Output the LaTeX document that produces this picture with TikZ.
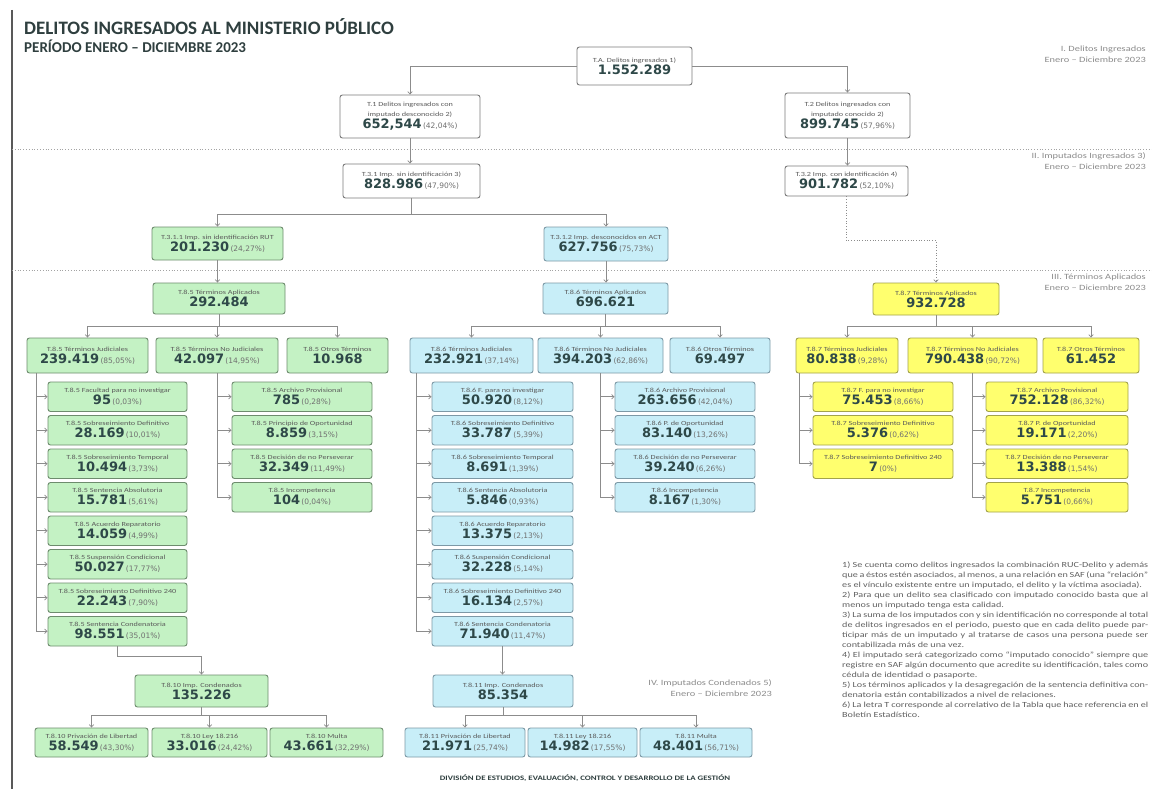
\documentclass[tikz,border=0pt]{standalone}
\usepackage{fontspec}
\setmainfont{Carlito}
\newfontfamily\numfont{DejaVu Sans}
\newfontfamily\widefont[FakeStretch=1.3]{Carlito}
\usetikzlibrary{arrows.meta,calc}
\definecolor{gfill}{HTML}{C4F2C4}\definecolor{gdraw}{HTML}{6E8C6E}
\definecolor{bfill}{HTML}{C8EEF8}\definecolor{bdraw}{HTML}{7D99A6}
\definecolor{yfill}{HTML}{FFFF6E}\definecolor{ydraw}{HTML}{A3A34A}
\definecolor{wdraw}{HTML}{7A7A7A}
\definecolor{numc}{HTML}{2E4848}
\definecolor{lblc}{HTML}{5A5A5A}
\definecolor{pctc}{HTML}{707070}
\definecolor{linec}{HTML}{8C8C8C}
\definecolor{titc}{HTML}{2F3F3F}
\newcommand\Lbl[1]{{\widefont\fontsize{6.3}{7}\selectfont\color{lblc}#1}}
\newcommand\Num[1]{{\numfont\bfseries\fontsize{13}{14}\selectfont\color{numc}#1}}
\newcommand\Pct[1]{{\numfont\fontsize{7.5}{8}\selectfont\color{pctc}\,#1}}
\newcommand\Bx[8]{%
 \pgfmathsetmacro\bxw{#5-#3}\pgfmathsetmacro\bxh{#6-#4}%
 \node[#1, minimum width=\bxw pt, minimum height=\bxh pt] (#2) at ({(#3+#5)/2},{(#4+#6)/2}) {\Lbl{#7}\\#8};}
\newcommand\Lst[7]{%
 \pgfmathsetmacro\lya{382+33.5*(#5-1)}\pgfmathsetmacro\lyb{\lya+29.5}%
 \Bx{#1}{#2}{#3}{\lya}{#4}{\lyb}{#6}{#7}}
\tikzset{
 box/.style={draw, rounded corners=2.5pt, line width=0.9pt, align=center, inner sep=0pt},
 gbox/.style={box, fill=gfill, draw=gdraw},
 bbox/.style={box, fill=bfill, draw=bdraw},
 ybox/.style={box, fill=yfill, draw=ydraw},
 wbox/.style={box, fill=white, draw=wdraw},
 conn/.style={draw=linec, line width=0.7pt},
 arr/.style={conn, -{Straight Barb[length=2.5pt,width=4.5pt]}},
 sep/.style={draw=linec!80, line width=0.8pt, dotted},
 side/.style={font=\widefont\fontsize{8}{9}\selectfont, text=black!45, anchor=east, inner sep=0pt},
 notes/.style={anchor=north west, text width=306pt, align=justify, inner sep=0pt,
   font=\widefont\fontsize{7.8}{10}\selectfont, text=black!62}
}
\begin{document}
\begin{tikzpicture}[x=1pt,y=-1pt]
\useasboundingbox (0,0) rectangle (1152,789);
\fill[white] (0,0) rectangle (1152,789);
\draw[line width=1.4pt, black!65] (12,10) -- (12,789);
\draw[sep] (12,149) -- (1152,149);
\draw[sep] (12,270) -- (1152,270);
% titles
\node[anchor=west, inner sep=0pt, text=titc, font=\bfseries\fontsize{19}{21}\selectfont] (title) at (24,27) {DELITOS INGRESADOS AL MINISTERIO PÚBLICO};
\node[anchor=west, inner sep=0pt, text=titc, font=\bfseries\fontsize{15}{17}\selectfont] (subtitle) at (24,46) {PERÍODO ENERO – DICIEMBRE 2023};
% side texts
\node[side] (s1a) at (1146,49) {I. Delitos Ingresados};
\node[side] (s1b) at (1146,60) {Enero – Diciembre 2023};
\node[side] (s2a) at (1146,156) {II. Imputados Ingresados 3)};
\node[side] (s2b) at (1146,167) {Enero – Diciembre 2023};
\node[side] (s3a) at (1146,277) {III. Términos Aplicados};
\node[side] (s3b) at (1146,288) {Enero – Diciembre 2023};
\node[side] (s4a) at (772,683) {IV. Imputados Condenados 5)};
\node[side] (s4b) at (772,694) {Enero – Diciembre 2023};
% white boxes
\Bx{wbox}{top}{577}{47}{692}{85}{T.A. Delitos ingresados 1)}{\Num{1.552.289}}
\node[wbox, minimum width=140pt, minimum height=43pt] (T1) at (410,116.5) {\Lbl{T.1 Delitos ingresados con}\\[-2pt]\Lbl{imputado desconocido 2)}\\\Num{652,544}\Pct{(42,04\%)}};
\node[wbox, minimum width=125pt, minimum height=45pt] (T2) at (847.5,115.5) {\Lbl{T.2 Delitos ingresados con}\\[-2pt]\Lbl{imputado conocido 2)}\\\Num{899.745}\Pct{(57,96\%)}};
\Bx{wbox}{T31}{343}{164}{480}{198}{T.3.1 Imp. sin identificación 3)}{\Num{828.986}\Pct{(47,90\%)}}
\Bx{wbox}{T32}{785}{166}{908}{196}{T.3.2 Imp. con identificación 4)}{\Num{901.782}\Pct{(52,10\%)}}
% green
\Bx{gbox}{g0}{152}{227}{283}{260}{T.3.1.1 Imp. sin identificación RUT}{\Num{201.230}\Pct{(24,27\%)}}
\Bx{gbox}{g1}{153}{283}{285}{314}{T.8.5 Términos Aplicados}{\Num{292.484}}
\Bx{gbox}{gA}{27}{338}{148}{373}{T.8.5 Términos Judiciales}{\Num{239.419}\Pct{(85,05\%)}}
\Bx{gbox}{gB}{156}{338}{278}{373}{T.8.5 Términos No Judiciales}{\Num{42.097}\Pct{(14,95\%)}}
\Bx{gbox}{gO}{287}{338}{388}{373}{T.8.5 Otros Términos}{\Num{10.968}}
\Lst{gbox}{gJ1}{48}{187}{1}{T.8.5 Facultad para no investigar}{\Num{95}\Pct{(0,03\%)}}
\Lst{gbox}{gJ2}{48}{187}{2}{T.8.5 Sobreseimiento Definitivo}{\Num{28.169}\Pct{(10,01\%)}}
\Lst{gbox}{gJ3}{48}{187}{3}{T.8.5 Sobreseimiento Temporal}{\Num{10.494}\Pct{(3,73\%)}}
\Lst{gbox}{gJ4}{48}{187}{4}{T.8.5 Sentencia Absolutoria}{\Num{15.781}\Pct{(5,61\%)}}
\Lst{gbox}{gJ5}{48}{187}{5}{T.8.5 Acuerdo Reparatorio}{\Num{14.059}\Pct{(4,99\%)}}
\Lst{gbox}{gJ6}{48}{187}{6}{T.8.5 Suspensión Condicional}{\Num{50.027}\Pct{(17,77\%)}}
\Lst{gbox}{gJ7}{48}{187}{7}{T.8.5 Sobreseimiento Definitivo 240}{\Num{22.243}\Pct{(7,90\%)}}
\Lst{gbox}{gJ8}{48}{187}{8}{T.8.5 Sentencia Condenatoria}{\Num{98.551}\Pct{(35,01\%)}}
\Lst{gbox}{gN1}{232}{372}{1}{T.8.5 Archivo Provisional}{\Num{785}\Pct{(0,28\%)}}
\Lst{gbox}{gN2}{232}{372}{2}{T.8.5 Principio de Oportunidad}{\Num{8.859}\Pct{(3,15\%)}}
\Lst{gbox}{gN3}{232}{372}{3}{T.8.5 Decisión de no Perseverar}{\Num{32.349}\Pct{(11,49\%)}}
\Lst{gbox}{gN4}{232}{372}{4}{T.8.5 Incompetencia}{\Num{104}\Pct{(0,04\%)}}
\Bx{gbox}{gC}{135}{675}{268}{707}{T.8.10 Imp. Condenados}{\Num{135.226}}
\Bx{gbox}{gC1}{35}{728}{148}{757}{T.8.10 Privación de Libertad}{\Num{58.549}\Pct{(43,30\%)}}
\Bx{gbox}{gC2}{152}{728}{267}{757}{T.8.10 Ley 18.216}{\Num{33.016}\Pct{(24,42\%)}}
\Bx{gbox}{gC3}{270}{728}{383}{757}{T.8.10 Multa}{\Num{43.661}\Pct{(32,29\%)}}
% blue
\Bx{bbox}{b0}{544}{227}{668}{261}{T.3.1.2 Imp. desconocidos en ACT}{\Num{627.756}\Pct{(75,73\%)}}
\Bx{bbox}{b1}{543}{283}{668}{314}{T.8.6 Términos Aplicados}{\Num{696.621}}
\Bx{bbox}{bA}{410}{338}{533}{373}{T.8.6 Términos Judiciales}{\Num{232.921}\Pct{(37,14\%)}}
\Bx{bbox}{bB}{538}{338}{663}{373}{T.8.6 Términos No Judiciales}{\Num{394.203}\Pct{(62,86\%)}}
\Bx{bbox}{bO}{670}{338}{770}{373}{T.8.6 Otros Términos}{\Num{69.497}}
\Lst{bbox}{bJ1}{432}{573}{1}{T.8.6 F. para no investigar}{\Num{50.920}\Pct{(8,12\%)}}
\Lst{bbox}{bJ2}{432}{573}{2}{T.8.6 Sobreseimiento Definitivo}{\Num{33.787}\Pct{(5,39\%)}}
\Lst{bbox}{bJ3}{432}{573}{3}{T.8.6 Sobreseimiento Temporal}{\Num{8.691}\Pct{(1,39\%)}}
\Lst{bbox}{bJ4}{432}{573}{4}{T.8.6 Sentencia Absolutoria}{\Num{5.846}\Pct{(0,93\%)}}
\Lst{bbox}{bJ5}{432}{573}{5}{T.8.6 Acuerdo Reparatorio}{\Num{13.375}\Pct{(2,13\%)}}
\Lst{bbox}{bJ6}{432}{573}{6}{T.8.6 Suspensión Condicional}{\Num{32.228}\Pct{(5,14\%)}}
\Lst{bbox}{bJ7}{432}{573}{7}{T.8.6 Sobreseimiento Definitivo 240}{\Num{16.134}\Pct{(2,57\%)}}
\Lst{bbox}{bJ8}{432}{573}{8}{T.8.6 Sentencia Condenatoria}{\Num{71.940}\Pct{(11,47\%)}}
\Lst{bbox}{bN1}{615}{755}{1}{T.8.6 Archivo Provisional}{\Num{263.656}\Pct{(42,04\%)}}
\Lst{bbox}{bN2}{615}{755}{2}{T.8.6 P. de Oportunidad}{\Num{83.140}\Pct{(13,26\%)}}
\Lst{bbox}{bN3}{615}{755}{3}{T.8.6 Decisión de no Perseverar}{\Num{39.240}\Pct{(6,26\%)}}
\Lst{bbox}{bN4}{615}{755}{4}{T.8.6 Incompetencia}{\Num{8.167}\Pct{(1,30\%)}}
\Bx{bbox}{bC}{433}{675}{573}{707}{T.8.11 Imp. Condenados}{\Num{85.354}}
\Bx{bbox}{bC1}{405}{728}{525}{757}{T.8.11 Privación de Libertad}{\Num{21.971}\Pct{(25,74\%)}}
\Bx{bbox}{bC2}{528}{728}{637}{757}{T.8.11 Ley 18.216}{\Num{14.982}\Pct{(17,55\%)}}
\Bx{bbox}{bC3}{640}{728}{752}{757}{T.8.11 Multa}{\Num{48.401}\Pct{(56,71\%)}}
% yellow
\Bx{ybox}{y1}{873}{283}{999}{315}{T.8.7 Términos Aplicados}{\Num{932.728}}
\Bx{ybox}{yA}{796}{338}{898}{373}{T.8.7 Términos Judiciales}{\Num{80.838}\Pct{(9,28\%)}}
\Bx{ybox}{yB}{908}{338}{1037}{373}{T.8.7 Términos No Judiciales}{\Num{790.438}\Pct{(90,72\%)}}
\Bx{ybox}{yO}{1043}{338}{1139}{373}{T.8.7 Otros Términos}{\Num{61.452}}
\Lst{ybox}{yJ1}{813}{953}{1}{T.8.7 F. para no investigar}{\Num{75.453}\Pct{(8,66\%)}}
\Lst{ybox}{yJ2}{813}{953}{2}{T.8.7 Sobreseimiento Definitivo}{\Num{5.376}\Pct{(0,62\%)}}
\Lst{ybox}{yJ3}{813}{953}{3}{T.8.7 Sobreseimiento Definitivo 240}{\Num{7}\Pct{(0\%)}}
\Lst{ybox}{yN1}{986}{1128}{1}{T.8.7 Archivo Provisional}{\Num{752.128}\Pct{(86,32\%)}}
\Lst{ybox}{yN2}{986}{1128}{2}{T.8.7 P. de Oportunidad}{\Num{19.171}\Pct{(2,20\%)}}
\Lst{ybox}{yN3}{986}{1128}{3}{T.8.7 Decisión de no Perseverar}{\Num{13.388}\Pct{(1,54\%)}}
\Lst{ybox}{yN4}{986}{1128}{4}{T.8.7 Incompetencia}{\Num{5.751}\Pct{(0,66\%)}}
% connectors
\draw[arr] (top.west) -| (T1.north);
\draw[arr] (top.east) -| (T2.north);
\draw[arr] (T1.south) -- (T1.south |- T31.north);
\draw[arr] (T2.south) -- (T2.south |- T32.north);
\draw[arr] (T31.south) -- ++(0,16) -| (g0.north);
\draw[arr] (T31.south) -- ++(0,16) -| (b0.north);
\draw[arr] (g0.south) -- (g0.south |- g1.north);
\draw[arr] (b0.south) -- (b0.south |- b1.north);
\draw[arr, dotted] (T32.south) -- ++(0,44) -| (y1.north);
\foreach \c in {gA,gB,gO} \draw[arr] (g1.south) -- ++(0,12) -| (\c.north);
\foreach \c in {bA,bB,bO} \draw[arr] (b1.south) -- ++(0,12) -| (\c.north);
\foreach \c in {yA,yB,yO} \draw[arr] (y1.south) -- ++(0,11) -| (\c.north);
\foreach \c in {gJ1,gJ2,gJ3,gJ4,gJ5,gJ6,gJ7,gJ8} \draw[arr] ([xshift=10pt]gA.south west) |- (\c.west);
\foreach \c in {gN1,gN2,gN3,gN4} \draw[arr] (gB.south) |- (\c.west);
\foreach \c in {bJ1,bJ2,bJ3,bJ4,bJ5,bJ6,bJ7,bJ8} \draw[arr] ([xshift=7pt]bA.south west) |- (\c.west);
\foreach \c in {bN1,bN2,bN3,bN4} \draw[arr] (bB.south) |- (\c.west);
\foreach \c in {yJ1,yJ2,yJ3} \draw[arr] ([xshift=4pt]yA.south west) |- (\c.west);
\foreach \c in {yN1,yN2,yN3,yN4} \draw[arr] (yB.south) |- (\c.west);
\draw[arr] (gJ8.south) -- ++(0,10) -| (gC.north);
\draw[arr] (bJ8.south) -- (bJ8.south |- bC.north);
\foreach \c in {gC1,gC2,gC3} \draw[arr] (gC.south) -- ++(0,8) -| (\c.north);
\foreach \c in {bC1,bC2,bC3} \draw[arr] (bC.south) -- ++(0,8) -| (\c.north);
% notes
\node[notes] (notes) at (842,562) {1) Se cuenta como delitos ingresados la combinación RUC-Delito y además que a éstos estén asociados, al menos, a una relación en SAF (una “relación” es el vínculo existente entre un imputado, el delito y la víctima asociada).\par
2) Para que un delito sea clasificado con imputado conocido basta que al menos un imputado tenga esta calidad.\par
3) La suma de los imputados con y sin identificación no corresponde al total de delitos ingresados en el periodo, puesto que en cada delito puede participar más de un imputado y al tratarse de casos una persona puede ser contabilizada más de una vez.\par
4) El imputado será categorizado como “imputado conocido” siempre que registre en SAF algún documento que acredite su identificación, tales como cédula de identidad o pasaporte.\par
5) Los términos aplicados y la desagregación de la sentencia definitiva condenatoria están contabilizados a nivel de relaciones.\par
6) La letra T corresponde al correlativo de la Tabla que hace referencia en el Boletín Estadístico.};
\node[inner sep=0pt, text=titc, font=\widefont\bfseries\fontsize{6.8}{8}\selectfont] (footer) at (585,778) {DIVISIÓN DE ESTUDIOS, EVALUACIÓN, CONTROL Y DESARROLLO DE LA GESTIÓN};
\end{tikzpicture}
\end{document}
